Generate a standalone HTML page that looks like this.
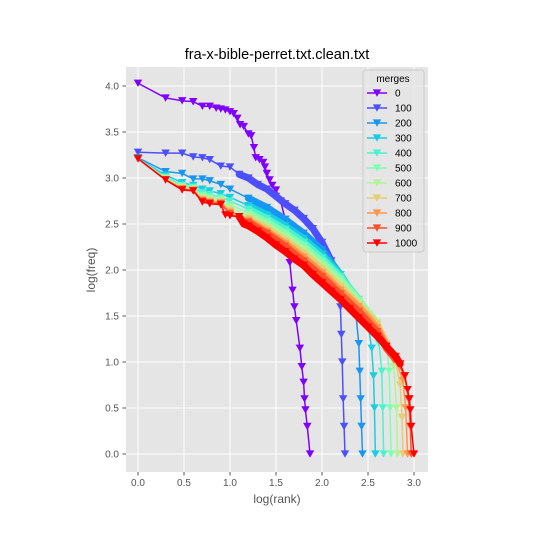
<!DOCTYPE html>
<html><head><meta charset="utf-8"><style>
body{margin:0;background:#fff;}
svg text{font-family:"Liberation Sans","DejaVu Sans",sans-serif;}
</style></head><body>
<svg id="chart" width="540" height="540" xmlns="http://www.w3.org/2000/svg">
<rect x="0" y="0" width="540" height="540" fill="#fff"/>
<rect x="126" y="67" width="302" height="405" fill="#e5e5e5"/>
<g id="grid"></g><g id="series"></g><g id="axes"></g>
<text x="277" y="59" font-size="14.5" text-anchor="middle" fill="#000">fra-x-bible-perret.txt.clean.txt</text>
<text x="277" y="503" font-size="12" text-anchor="middle" fill="#555">log(rank)</text>
<text x="95" y="270" font-size="12" text-anchor="middle" fill="#555" transform="rotate(-90 95 270)">log(freq)</text>
<g id="legend"></g>
</svg>
<script>
const seriesNames=["0","100","200","300","400","500","600","700","800","900","1000"];
const xTicks=[0,0.5,1,1.5,2,2.5,3];
const yTicks=[0,0.5,1,1.5,2,2.5,3,3.5,4];
const gridX=[0,0.3,0.48,0.6,0.7,0.78,0.9,1.0,1.2,1.4,1.6,1.8,2.0,2.2];
const s0x=[0,0.3,0.48,0.6,0.7,0.78,0.85,0.9,0.95,1.0,1.04,1.08,1.11,1.15,1.2,1.23,1.26,1.28,1.32,1.36,1.38,1.40,1.43,1.46,1.5,1.55,1.6,1.63,1.65,1.68,1.70,1.72,1.76,1.78,1.80,1.81,1.82,1.84,1.87];
const s0y=[4.03,3.87,3.84,3.83,3.78,3.78,3.76,3.75,3.74,3.72,3.70,3.65,3.58,3.56,3.48,3.46,3.33,3.22,3.20,3.17,3.12,3.05,2.98,2.92,2.87,2.75,2.55,2.3,2.08,1.78,1.6,1.45,1.15,0.95,0.78,0.6,0.48,0.3,0.0];
const s100x=[0,0.3,0.48,0.6,0.7,0.78,0.9,1.0,1.1,1.2,1.3,1.4,1.5,1.6,1.7,1.8,1.9,2.0,2.1,2.17,2.2,2.21,2.22,2.23,2.24,2.25];
const s100y=[3.28,3.27,3.27,3.23,3.22,3.20,3.13,3.12,3.04,3.0,2.93,2.88,2.8,2.72,2.65,2.56,2.45,2.3,2.1,1.85,1.6,1.3,1.0,0.6,0.3,0];
const s200y=[3.22,3.07,3.05,2.99,2.99,2.97,2.93,2.88,2.78,2.68,2.55,2.40,2.22,1.95];
const s200tx=[2.3,2.37,2.4,2.41,2.42,2.43,2.44]; const s200ty=[1.75,1.5,1.2,0.9,0.6,0.3,0];
const s300y=[3.21,3.03,2.95,2.92,2.88,2.86,2.83,2.79,2.70,2.60,2.48,2.34,2.17,1.95];
const s300tx=[2.4,2.5,2.54,2.56,2.57,2.58]; const s300ty=[1.65,1.4,1.15,0.85,0.5,0];
const s400y=[3.21,3.01,2.92,2.9,2.84,2.82,2.79,2.75,2.66,2.56,2.44,2.30,2.13,1.93];
const s400tx=[2.4,2.55,2.62,2.65,2.66,2.67]; const s400ty=[1.68,1.42,1.2,0.9,0.5,0];
const s500y=[3.21,3.0,2.91,2.89,2.81,2.79,2.77,2.71,2.62,2.52,2.40,2.26,2.09,1.90];
const s500tx=[2.4,2.6,2.7,2.73,2.74,2.75]; const s500ty=[1.67,1.42,1.2,0.9,0.5,0];
const s600y=[3.21,2.99,2.9,2.88,2.79,2.77,2.75,2.68,2.59,2.48,2.36,2.22,2.05,1.86];
const s600tx=[2.4,2.6,2.7,2.78,2.81,2.82]; const s600ty=[1.65,1.43,1.2,0.95,0.5,0];
const s700y=[3.21,2.99,2.89,2.87,2.77,2.75,2.74,2.65,2.56,2.45,2.32,2.18,2.01,1.82];
const s700tx=[2.4,2.6,2.7,2.8,2.85,2.87,2.88]; const s700ty=[1.62,1.41,1.2,1.0,0.75,0.4,0];
const s800y=[3.21,2.98,2.88,2.87,2.76,2.74,2.73,2.63,2.54,2.42,2.29,2.14,1.97,1.78];
const s800tx=[2.4,2.6,2.7,2.8,2.88,2.91,2.93]; const s800ty=[1.60,1.37,1.18,1.02,0.8,0.5,0];
const s900y=[3.21,2.98,2.88,2.86,2.75,2.73,2.72,2.61,2.52,2.40,2.26,2.1,1.93,1.74];
const s900tx=[2.4,2.6,2.7,2.8,2.9,2.94,2.96,2.97]; const s900ty=[1.55,1.33,1.15,1.03,0.85,0.6,0.3,0];
const s1000x=[0,0.3,0.48,0.6,0.7,0.78,0.9,0.95,1.0,1.1,1.15,1.2,1.3,1.4,1.5,1.6,1.7,1.8,1.9,2.0,2.1,2.2,2.3,2.4,2.5,2.6,2.7,2.8,2.85,2.9,2.93,2.95,2.96,2.97,3.0];
const s1000y=[3.21,2.98,2.87,2.86,2.74,2.72,2.71,2.60,2.59,2.58,2.50,2.48,2.42,2.35,2.27,2.20,2.12,2.05,1.95,1.86,1.77,1.68,1.58,1.48,1.38,1.28,1.17,1.06,0.98,0.85,0.7,0.6,0.48,0.3,0];

const NS="http://www.w3.org/2000/svg";
const X=v=>138+v*92, Y=v=>454-v*92;
function mk(t,p){const e=document.createElementNS(NS,t);for(const k in p)e.setAttribute(k,p[k]);return e;}
function color(i){const x=i/10;const r=Math.min(1,Math.abs(2*x-0.5)),g=Math.sin(Math.PI*x),b=Math.cos(Math.PI*x/2);return `rgb(${Math.round(r*255)},${Math.round(g*255)},${Math.round(b*255)})`;}
const grid=document.getElementById('grid'),axes=document.getElementById('axes');
xTicks.forEach(t=>{const l=mk('line',{x1:X(t),x2:X(t),y1:67,y2:472,stroke:'#fff','stroke-width':1});grid.appendChild(l);
const tk=mk('line',{x1:X(t),x2:X(t),y1:472,y2:475.5,stroke:'#555'});axes.appendChild(tk);
const tx=mk('text',{x:X(t),y:486,'font-size':10,'text-anchor':'middle',fill:'#555'});tx.textContent=t.toFixed(1);axes.appendChild(tx);});
yTicks.forEach(t=>{const l=mk('line',{x1:126,x2:428,y1:Y(t),y2:Y(t),stroke:'#fff','stroke-width':1});grid.appendChild(l);
const tk=mk('line',{x1:122.5,x2:126,y1:Y(t),y2:Y(t),stroke:'#555'});axes.appendChild(tk);
const tx=mk('text',{x:119,y:Y(t)+3.5,'font-size':10,'text-anchor':'end',fill:'#555'});tx.textContent=t.toFixed(1);axes.appendChild(tx);});

const mids=[[s200y,s200tx,s200ty],[s300y,s300tx,s300ty],[s400y,s400tx,s400ty],[s500y,s500tx,s500ty],[s600y,s600tx,s600ty],[s700y,s700tx,s700ty],[s800y,s800tx,s800ty],[s900y,s900tx,s900ty]];
const all=[[s0x,s0y],[s100x,s100y]];
mids.forEach(m=>all.push([gridX.concat(m[1]),m[0].concat(m[2])]));
all.push([s1000x,s1000y]);
const sg=document.getElementById('series');
function tri(x,y,c){return mk('path',{d:`M${x-4.2},${y-3.6}L${x+4.2},${y-3.6}L${x},${y+3.8}Z`,fill:c});}
all.forEach((s,i)=>{const c=color(i);const g=mk('g',{});
const pts=s[0].map((x,j)=>X(x)+','+Y(s[1][j])).join(' ');
const last=s[0][s[0].length-1];
const band=s[0].map((x,j)=>[x,s[1][j]]).filter(p=>i>0&&p[0]>=1.1&&p[0]<=last-0.12&&p[1]>=0.9);
if(band.length>1){const b=mk('polyline',{points:band.map(p=>X(p[0])+','+Y(p[1])).join(' '),fill:'none',stroke:c,'stroke-width':7,'stroke-linejoin':'round','stroke-linecap':'round'});g.appendChild(b);}
const pl=mk('polyline',{points:pts,fill:'none',stroke:c,'stroke-width':1.5});g.appendChild(pl);
s[0].forEach((x,j)=>{const t=tri(X(x),Y(s[1][j]),c);g.appendChild(t);});
sg.appendChild(g);});

const lg=document.getElementById('legend');
const box=mk('rect',{x:363,y:70,width:61,height:182,rx:3,fill:'#e5e5e5',stroke:'#ccc','fill-opacity':0.8});lg.appendChild(box);
const lt=mk('text',{x:393,y:82,'font-size':10,'text-anchor':'middle',fill:'#000'});lt.textContent='merges';lg.appendChild(lt);
seriesNames.forEach((n,i)=>{const y=93+i*15;const c=color(i);const e=mk('g',{});
e.appendChild(mk('line',{x1:367,x2:387,y1:y,y2:y,stroke:c,'stroke-width':1.5}));e.appendChild(tri(377,y,c));
const t=mk('text',{x:395,y:y+3.5,'font-size':10,fill:'#000'});t.textContent=n;e.appendChild(t);lg.appendChild(e);});
</script>
</body></html>
